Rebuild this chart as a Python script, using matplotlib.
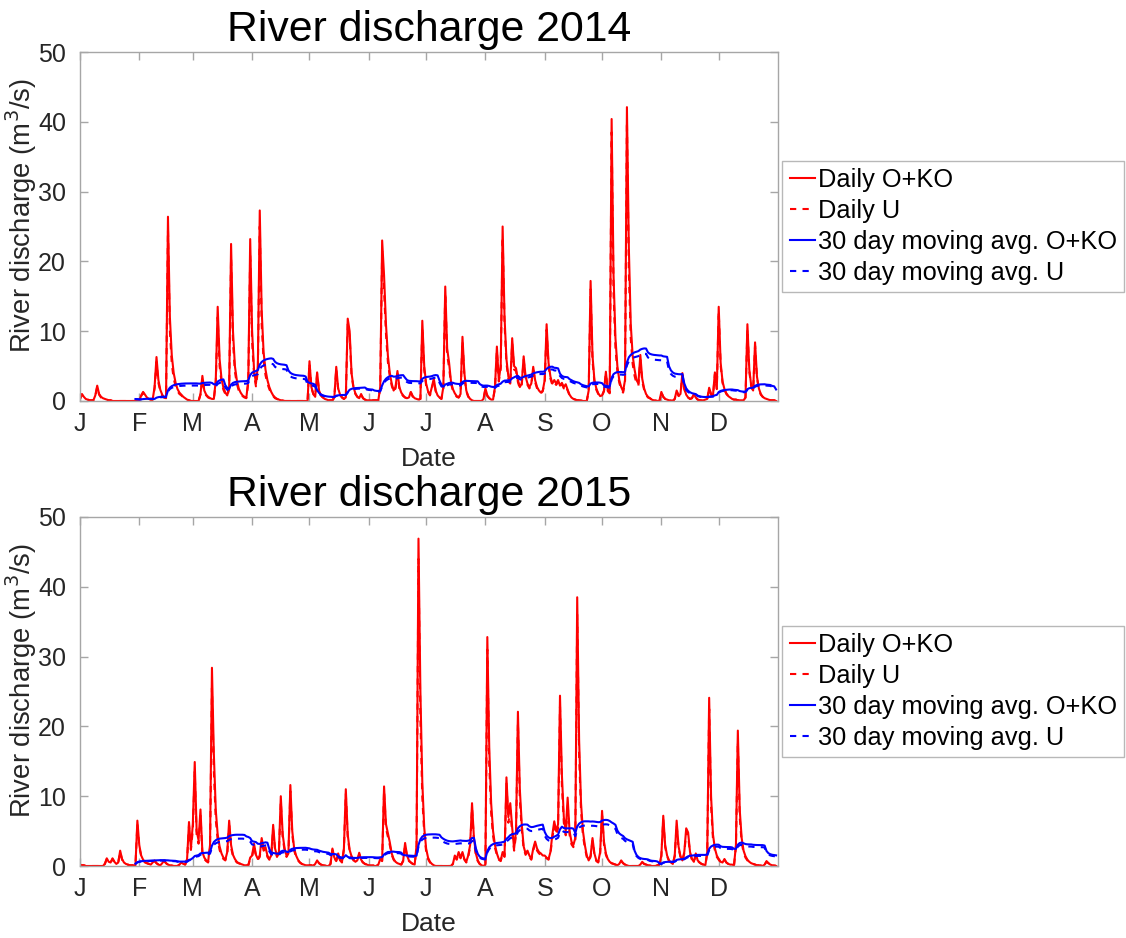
import numpy as np
import pandas as pd
import matplotlib
matplotlib.use("Agg")
import matplotlib.pyplot as plt

plt.rcParams['font.family'] = ['Liberation Sans', 'DejaVu Sans']

# ---- daily discharge (m3/s), one list per month ----
oko_2014 = [
    [0.3,1.0,0.6,0.3,0.2,0.1,0.1,0.1,0.8,2.2,1.0,0.6,0.4,0.3,0.2,0.1,0.1,0,0,0,0,0,0,0,0,0,0,0,0,0,0],
    [0,0.8,1.3,0.9,0.5,0.3,0.2,0.2,2.0,6.3,3.0,1.6,0.9,0.5,0.5,26.4,12.0,6.5,4.0,2.6,1.7,1.2,0.9,0.6,0.4,0.2,0.1,0],
    [0,0,0,0,1.0,3.6,1.5,0.9,0.6,0.4,0.3,0.3,3.0,13.5,6.0,3.2,1.9,1.2,0.8,2.0,22.5,10.0,5.0,3.0,1.8,1.2,0.8,0.6,0.5,3.0,23.2],
    [10.0,4.5,2.5,5.0,27.3,13.0,7.0,4.5,3.0,2.0,1.3,0.8,0.5,0.3,0.2,0.1,0.1,0,0,0,0,0,0,0,0,0,0,0,0,0],
    [5.7,2.0,1.0,0.6,4.1,1.5,0.8,0.5,0.3,0.2,0.1,0.1,0.1,0.5,4.9,1.8,0.9,0.5,0.3,0.5,11.8,10.0,4.0,2.0,1.1,0.6,0.4,1.0,0.4,0.2,0.1],
    [0.1,0.1,0.1,0.1,0.1,0.1,2.0,23.0,18.0,11.0,6.5,4.0,2.5,1.5,2.0,4.3,2.0,1.2,0.8,0.5,0.4,0.5,1.3,0.7,0.4,0.3,0.2,0.3,11.5,5.0],
    [2.5,1.4,0.9,2.0,3.2,1.5,0.8,0.5,0.3,2.0,16.4,7.5,5.5,2.8,1.7,1.1,0.7,0.5,1.0,9.2,4.0,1.5,0.7,0.3,0.1,0,0,0,0,0,0.3],
    [1.8,0.8,0.4,0.2,0.2,2.0,7.8,3.0,5.0,25.0,12.0,6.0,3.5,2.5,9.0,5.0,4.7,3.0,2.0,2.5,6.4,3.5,2.5,2.0,2.5,4.9,3.0,2.0,1.5,1.2,1.5],
    [3.0,11.0,5.5,3.5,2.5,3.0,2.5,3.0,2.2,2.6,2.0,2.4,1.6,0.9,0.5,0.3,0.2,0.1,0.1,0.1,0,0,0,1.5,17.2,6.5,3.0,1.8,1.1,0.7],
    [0.8,1.5,4.2,1.5,1.2,40.4,18.0,9.0,5.0,3.0,2.0,1.4,3.0,42.1,22.0,11.0,6.5,4.5,3.0,2.5,6.6,3.2,1.8,1.0,0.6,0.4,0.2,0.1,0.1,0,0],
    [1.3,0.6,0.3,0.2,0.1,0.1,0,0.3,1.5,0.8,1.0,4.0,1.8,0.9,0.5,0.3,0.4,1.0,0.5,0.2,0.1,0.1,0.1,0.2,0.3,1.9,1.0,0.8,4.1,1.8],
    [13.5,5.5,2.8,1.7,1.1,0.7,0.5,0.3,0.2,0.2,0.1,0.1,0.1,0.1,0.5,11.0,4.5,2.2,1.5,8.4,3.5,1.8,1.0,0.6,0.4,0.3,0.2,0.1,0.1,0.1,0],
]
u_2014 = [
    [0.3,0.9,0.5,0.3,0.2,0.1,0.1,0.1,0.7,2.0,0.9,0.5,0.4,0.3,0.2,0.1,0.1,0,0,0,0,0,0,0,0,0,0,0,0,0,0],
    [0,0.7,1.2,0.8,0.5,0.3,0.2,0.2,1.8,5.6,2.6,1.4,0.8,0.5,0.4,24.5,10.0,5.3,3.2,2.1,1.4,1.0,0.8,0.5,0.3,0.2,0.1,0],
    [0,0,0,0,0.9,3.2,1.3,0.8,0.5,0.4,0.3,0.3,2.6,12.0,5.0,2.7,1.6,1.0,0.7,1.7,20.5,8.5,4.2,2.5,1.5,1.0,0.7,0.5,0.4,2.6,21.0],
    [8.5,3.8,2.1,4.3,25.0,11.0,5.8,3.7,2.5,1.7,1.1,0.7,0.4,0.3,0.2,0.1,0.1,0,0,0,0,0,0,0,0,0,0,0,0,0],
    [5.4,1.9,1.0,0.6,3.9,1.4,0.8,0.5,0.3,0.2,0.1,0.1,0.1,0.5,4.6,1.7,0.9,0.5,0.3,0.5,11.0,9.2,3.7,1.9,1.0,0.6,0.4,0.9,0.4,0.2,0.1],
    [0.1,0.1,0.1,0.1,0.1,0.1,1.8,21.5,15.8,9.6,5.6,3.5,2.2,1.3,1.8,3.9,1.8,1.1,0.7,0.5,0.4,0.5,1.2,0.6,0.4,0.3,0.2,0.3,10.5,4.4],
    [2.2,1.3,0.8,1.8,2.9,1.4,0.7,0.5,0.3,1.8,15.5,6.6,4.8,2.5,1.5,1.0,0.6,0.5,0.9,8.6,3.6,1.4,0.6,0.3,0.1,0,0,0,0,0,0.3],
    [1.7,0.7,0.4,0.2,0.2,1.8,7.2,2.8,4.6,23.5,11.0,5.4,3.2,2.3,8.3,4.5,4.3,2.7,1.8,2.3,5.9,3.2,2.3,1.8,2.3,4.5,2.7,1.8,1.4,1.1,1.4],
    [2.8,10.2,5.0,3.2,2.3,2.7,2.3,2.7,2.0,2.4,1.8,2.2,1.5,0.8,0.5,0.3,0.2,0.1,0.1,0.1,0,0,0,1.4,16.0,5.8,2.7,1.6,1.0,0.7],
    [0.7,1.4,3.9,1.4,1.1,38.5,15.5,7.6,4.2,2.6,1.7,1.2,2.7,40.0,18.5,9.0,5.3,3.6,2.5,2.2,5.9,2.8,1.6,0.9,0.5,0.4,0.2,0.1,0.1,0,0],
    [1.2,0.6,0.3,0.2,0.1,0.1,0,0.3,1.4,0.7,0.9,3.7,1.7,0.8,0.5,0.3,0.4,0.9,0.5,0.2,0.1,0.1,0.1,0.2,0.3,1.8,0.9,0.7,3.8,1.7],
    [12.8,5.1,2.6,1.6,1.0,0.7,0.5,0.3,0.2,0.2,0.1,0.1,0.1,0.1,0.5,10.3,4.2,2.1,1.4,7.9,3.3,1.7,0.9,0.6,0.4,0.3,0.2,0.1,0.1,0.1,0],
]
oko_2015 = [
    [0.2,0.1,0.1,0,0,0,0,0,0,0,0,0,0,0.3,1.1,0.6,0.5,1.1,0.6,0.3,0.5,2.2,1.0,0.5,0.3,0.2,0.1,0.1,0.1,0.1,6.5],
    [3.0,1.5,0.9,0.6,0.4,0.3,0.2,0.5,0.8,0.4,0.2,0.1,0.4,0.8,0.4,0.2,0.1,0.1,0,0,0,0.2,0.5,0.3,0.2,1.0,6.3,2.5],
    [6.0,14.9,5.0,3.7,8.1,2.0,1.2,0.8,0.6,3.0,28.4,16.0,8.0,4.5,2.8,1.8,1.2,0.9,2.0,6.5,3.0,1.6,1.0,0.6,0.4,0.3,0.2,0.1,0.1,0.1,1.2],
    [1.5,3.2,1.6,1.0,1.5,4.0,2.5,2.7,1.5,1.0,1.5,5.9,2.5,1.5,2.0,10.0,4.5,2.5,1.5,2.0,11.6,5.0,2.5,1.5,0.9,0.5,0.3,0.2,0.1,0.1],
    [0.1,0.1,0,0.3,0.8,0.4,0.2,0.1,0.1,0,0,0.3,2.5,1.2,0.8,1.8,0.9,0.6,2.5,11.0,4.5,2.3,1.4,0.9,0.6,0.8,1.9,0.9,0.5,0.3,0.2],
    [0.1,0.1,0.1,0,0,0.2,1.0,0.8,11.4,6.0,4.7,3.4,1.8,1.0,0.6,0.4,0.3,0.2,0.8,3.3,1.5,0.8,0.5,0.3,0.2,3.0,46.9,25.0,12.0,5.5],
    [2.5,1.2,0.6,0.3,0.1,0,0,0,0,0,0,0,0,0,0.3,1.5,1.0,2.0,1.2,2.0,1.0,0.6,1.5,3.0,9.0,4.0,1.8,0.8,0.3,0.1,0],
    [0.2,32.8,17.0,9.0,5.0,3.0,1.8,1.0,0.8,2.0,1.5,12.7,7.0,9.0,5.5,2.5,5.0,22.1,11.0,6.0,2.8,1.8,2.2,1.5,1.0,2.5,3.5,2.5,2.0,1.8,1.5],
    [1.5,1.2,1.0,2.0,4.5,6.4,5.0,6.0,24.4,13.0,7.0,5.0,9.8,5.0,3.5,3.0,4.0,38.5,18.0,9.0,5.0,3.0,1.5,0.8,1.5,4.0,1.8,0.8,0.6,2.0],
    [7.9,3.5,1.8,1.0,0.6,0.4,0.3,0.2,0.1,0.3,0.8,0.4,0.2,0.1,0,0,0,0,0,0,0.2,0.6,0.3,0.2,0.1,0.1,0,0,0,0.1,0.2],
    [1.5,7.2,3.0,1.5,0.8,0.5,0.3,1.5,6.5,2.8,1.4,0.8,2.0,5.4,4.8,2.0,1.0,0.6,1.8,0.8,0.5,0.3,0.2,0.1,2.0,24.1,10.0,4.5,2.5,1.5],
    [1.0,0.6,0.5,1.0,0.5,0.3,0.2,0.2,0.1,3.0,19.4,8.0,4.0,2.2,1.4,0.9,0.6,0.4,0.3,0.2,0.1,0.1,0.1,0,0.2,0.7,0.4,0.2,0.1,0.1,0],
]
u_2015 = [
    [0.2,0.1,0.1,0,0,0,0,0,0,0,0,0,0,0.3,1.0,0.6,0.5,1.0,0.6,0.3,0.5,2.0,0.9,0.5,0.3,0.2,0.1,0.1,0.1,0.1,6.0],
    [2.7,1.4,0.8,0.5,0.4,0.3,0.2,0.5,0.7,0.4,0.2,0.1,0.4,0.7,0.4,0.2,0.1,0.1,0,0,0,0.2,0.5,0.3,0.2,0.9,5.8,2.3],
    [5.2,13.5,4.3,3.2,7.2,1.7,1.0,0.7,0.5,2.6,25.5,13.5,6.6,3.7,2.3,1.5,1.0,0.8,1.7,5.8,2.6,1.4,0.9,0.5,0.4,0.3,0.2,0.1,0.1,0.1,1.0],
    [1.3,2.9,1.4,0.9,1.3,3.6,2.2,2.4,1.3,0.9,1.3,5.3,2.2,1.3,1.8,9.2,4.0,2.2,1.3,1.8,10.7,4.5,2.2,1.3,0.8,0.5,0.3,0.2,0.1,0.1],
    [0.1,0.1,0,0.3,0.7,0.4,0.2,0.1,0.1,0,0,0.3,2.3,1.1,0.7,1.6,0.8,0.5,2.3,10.4,4.1,2.1,1.3,0.8,0.5,0.7,1.7,0.8,0.5,0.3,0.2],
    [0.1,0.1,0.1,0,0,0.2,0.9,0.7,10.8,5.4,4.2,3.0,1.6,0.9,0.5,0.4,0.3,0.2,0.7,3.0,1.4,0.7,0.5,0.3,0.2,2.6,44.0,21.0,9.8,4.6],
    [2.1,1.0,0.5,0.3,0.1,0,0,0,0,0,0,0,0,0,0.3,1.3,0.9,1.8,1.1,1.8,0.9,0.5,1.3,2.7,8.3,3.6,1.6,0.7,0.3,0.1,0],
    [0.2,31.0,14.5,7.6,4.3,2.6,1.6,0.9,0.7,1.8,1.3,11.8,6.2,8.0,4.8,2.2,4.5,20.5,9.5,5.2,2.5,1.6,2.0,1.3,0.9,2.2,3.2,2.2,1.8,1.6,1.3],
    [1.3,1.1,0.9,1.8,4.0,5.8,4.5,5.4,22.8,11.5,6.2,4.4,8.9,4.5,3.1,2.7,3.6,36.0,15.8,7.9,4.4,2.6,1.3,0.7,1.3,3.6,1.6,0.7,0.5,1.8],
    [7.2,3.1,1.6,0.9,0.5,0.4,0.3,0.2,0.1,0.3,0.7,0.4,0.2,0.1,0,0,0,0,0,0,0.2,0.5,0.3,0.2,0.1,0.1,0,0,0,0.1,0.2],
    [1.4,6.6,2.7,1.4,0.7,0.5,0.3,1.4,5.9,2.5,1.3,0.7,1.8,4.9,4.3,1.8,0.9,0.5,1.6,0.7,0.5,0.3,0.2,0.1,1.8,22.5,8.6,3.9,2.2,1.3],
    [0.9,0.5,0.5,0.9,0.5,0.3,0.2,0.2,0.1,2.7,17.8,6.9,3.4,1.9,1.2,0.8,0.5,0.4,0.3,0.2,0.1,0.1,0.1,0,0.2,0.6,0.4,0.2,0.1,0.1,0],
]

month_labels = ['J', 'F', 'M', 'A', 'M', 'J', 'J', 'A', 'S', 'O', 'N', 'D']
legend_labels = ['Daily O+KO', 'Daily U', '30 day moving avg. O+KO', '30 day moving avg. U']
years = [2014, 2015]
window = 30


def flatten(months):
    return np.array([v for m in months for v in m], dtype=float)


def draw_panel(ax, year, oko_months, u_months):
    oko = flatten(oko_months)
    u = flatten(u_months)
    assert len(oko) == 365 and len(u) == 365
    days = np.arange(len(oko))
    oko_avg = pd.Series(oko).rolling(window).mean().to_numpy()
    u_avg = pd.Series(u).rolling(window).mean().to_numpy()

    red, blue = '#ff0000', '#0000ff'
    ax.plot(days, oko, color=red, lw=1.5, label=legend_labels[0])
    ax.plot(days, u, color=red, lw=1.5, ls=(0, (3, 3)), label=legend_labels[1])
    ax.plot(days, oko_avg, color=blue, lw=1.5, label=legend_labels[2])
    ax.plot(days, u_avg, color=blue, lw=1.5, ls=(0, (3, 3)), label=legend_labels[3])

    month_starts = np.cumsum([0] + [len(m) for m in oko_months[:-1]])
    ax.set_xlim(0, 365)
    ax.set_ylim(0, 50)
    ax.set_xticks(month_starts)
    ax.set_xticklabels(month_labels)
    ax.set_yticks([0, 10, 20, 30, 40, 50])

    ax.set_title(f'River discharge {year}', fontsize=30.8, pad=8, color='black')
    ax.set_xlabel('Date', fontsize=19, color='#262626', labelpad=8)
    ax.set_ylabel('River discharge (m$^3$/s)', fontsize=19.8, color='#262626')
    ax.yaxis.set_label_coords(-0.059, 0.53)

    for s in ax.spines.values():
        s.set_color('#a6a6a6')
        s.set_linewidth(1.0)
    ax.tick_params(direction='in', length=6, width=1, color='#a6a6a6',
                   top=True, right=True, labelsize=18, labelcolor='#262626')
    ax.tick_params(axis='x', pad=8)
    ax.tick_params(axis='y', pad=10)

    leg = ax.legend(loc='center left', bbox_to_anchor=(1.006, 0.5), fontsize=18.3,
                    frameon=True, fancybox=False, edgecolor='#a6a6a6',
                    handlelength=1.0, handletextpad=0.1, labelspacing=0.27,
                    borderpad=0.3, borderaxespad=0.0)
    leg.get_frame().set_linewidth(1.0)
    for t in leg.get_texts():
        t.set_color('black')


fig = plt.figure(figsize=(11.26, 9.38), dpi=100)
W, H = 1126, 938
ax1 = fig.add_axes([80 / W, 1 - 401 / H, 698 / W, 349 / H])
ax2 = fig.add_axes([80 / W, 1 - 866 / H, 698 / W, 349 / H])

draw_panel(ax1, years[0], oko_2014, u_2014)
draw_panel(ax2, years[1], oko_2015, u_2015)

fig.savefig('out.png', dpi=100, facecolor='white')
